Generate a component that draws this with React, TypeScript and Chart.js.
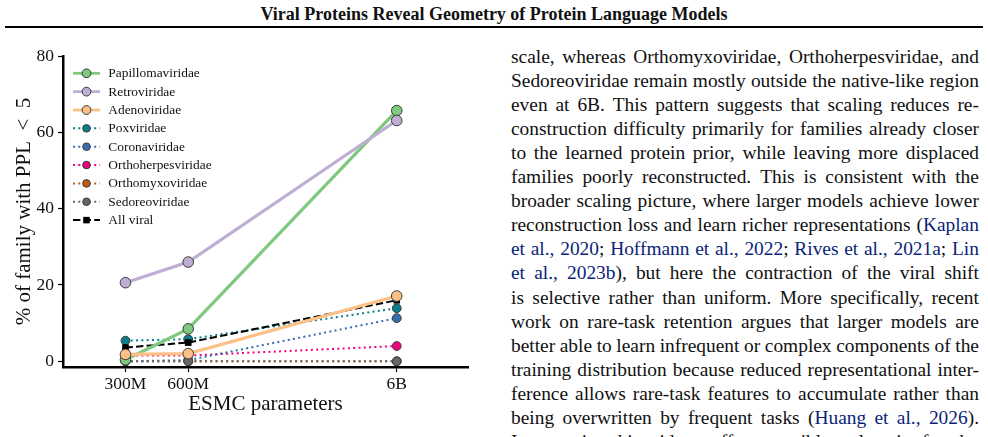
import React, { useEffect, useRef } from "react";
import { Chart, registerables } from "chart.js";

Chart.register(...registerables);

// ---------- data ----------
const modelSizes = [3e8, 6e8, 6e9];
const modelSizeLabels = ["300M", "600M", "6B"];
const yTickValues = [0, 20, 40, 60, 80];

const papillomaviridae = [0.4, 8.5, 65.7];
const retroviridae = [20.6, 26.0, 63.1];
const adenoviridae = [1.8, 2.0, 17.1];
const poxviridae = [5.4, 5.8, 13.9];
const coronaviridae = [0.0, 0.3, 11.3];
const orthoherpesviridae = [1.5, 1.5, 4.0];
const orthomyxoviridae = [0.0, 0.0, 0.0];
const sedoreoviridae = [0.0, 0.0, 0.0];
const allViral = [3.6, 4.9, 16.0];

const headerTitle = "Viral Proteins Reveal Geometry of Protein Language Models";
const xTitle = "ESMC parameters";
const yTitle = "% of family with PPL\u2002<\u20025";

// text column: {...} marks citation (blue) fragments
const paragraphLines = [
  "scale, whereas Orthomyxoviridae, Orthoherpesviridae, and",
  "Sedoreoviridae remain mostly outside the native-like region",
  "even at 6B. This pattern suggests that scaling reduces re-",
  "construction difficulty primarily for families already closer",
  "to the learned protein prior, while leaving more displaced",
  "families poorly reconstructed. This is consistent with the",
  "broader scaling picture, where larger models achieve lower",
  "reconstruction loss and learn richer representations ({Kaplan}",
  "{et} {al.,} {2020}; {Hoffmann} {et} {al.,} {2022}; {Rives} {et} {al.,} {2021a}; {Lin}",
  "{et} {al.,} {2023b}), but here the contraction of the viral shift",
  "is selective rather than uniform. More specifically, recent",
  "work on rare-task retention argues that larger models are",
  "better able to learn infrequent or complex components of the",
  "training distribution because reduced representational inter-",
  "ference allows rare-task features to accumulate rather than",
  "being overwritten by frequent tasks ({Huang} {et} {al.,} {2026}).",
  "In our setting, this evidence offers a possible explanation for why",
];

const SERIF = '"Liberation Serif", "Times New Roman", Times, serif';
const EDGE = "#3a3a3a";

type Series = {
  label: string;
  values: number[];
  color: string;
  kind: "solid" | "dotted" | "dashed";
  order: number;
};

const series: Series[] = [
  { label: "Papillomaviridae", values: papillomaviridae, color: "#7fc97f", kind: "solid", order: 3 },
  { label: "Retroviridae", values: retroviridae, color: "#beaed4", kind: "solid", order: 2 },
  { label: "Adenoviridae", values: adenoviridae, color: "#fdc086", kind: "solid", order: 1 },
  { label: "Poxviridae", values: poxviridae, color: "#0a7e8a", kind: "dotted", order: 11 },
  { label: "Coronaviridae", values: coronaviridae, color: "#386cb0", kind: "dotted", order: 12 },
  { label: "Orthoherpesviridae", values: orthoherpesviridae, color: "#f0027f", kind: "dotted", order: 13 },
  { label: "Orthomyxoviridae", values: orthomyxoviridae, color: "#bf5b17", kind: "dotted", order: 14 },
  { label: "Sedoreoviridae", values: sedoreoviridae, color: "#666666", kind: "dotted", order: 10 },
  { label: "All viral", values: allViral, color: "#000000", kind: "dashed", order: 5 },
];

function buildDataset(s: Series) {
  const isSolid = s.kind === "solid";
  const isDashed = s.kind === "dashed";
  return {
    label: s.label,
    data: modelSizes.map((x, i) => ({ x, y: s.values[i] })),
    borderColor: s.color,
    backgroundColor: s.color,
    borderWidth: isSolid ? 3.2 : 2,
    borderDash: isSolid ? [] : isDashed ? [7.4, 3.2] : [2, 3.3],
    pointStyle: isDashed ? "rect" : "circle",
    pointRadius: isSolid ? 5.3 : isDashed ? 4.7 : 4.4,
    pointBackgroundColor: s.color,
    pointBorderColor: isDashed ? "#000000" : EDGE,
    pointBorderWidth: isDashed ? 0 : 1,
    tension: 0,
    order: s.order,
    clip: false,
    legendKind: s.kind,
  } as any;
}

const lineLegend = {
  id: "lineLegend",
  afterDraw(chart: any) {
    const { ctx, chartArea } = chart;
    const x0 = chartArea.left + 10;
    const x1 = chartArea.left + 37;
    const xm = (x0 + x1) / 2;
    chart.data.datasets.forEach((ds: any, i: number) => {
      const y = chartArea.top + 17.3 + i * 18.35;
      ctx.save();
      ctx.strokeStyle = ds.borderColor;
      ctx.lineWidth = ds.legendKind === "solid" ? 2.8 : 2;
      ctx.setLineDash(ds.borderDash || []);
      ctx.beginPath();
      ctx.moveTo(x0, y);
      ctx.lineTo(x1, y);
      ctx.stroke();
      ctx.setLineDash([]);
      ctx.fillStyle = ds.pointBackgroundColor;
      if (ds.legendKind === "dashed") {
        const s = 6.5;
        ctx.fillRect(xm - s / 2, y - s / 2, s, s);
      } else {
        const r = ds.legendKind === "solid" ? 4.4 : 3.8;
        ctx.strokeStyle = EDGE;
        ctx.lineWidth = 1;
        ctx.beginPath();
        ctx.arc(xm, y, r, 0, Math.PI * 2);
        ctx.fill();
        ctx.stroke();
      }
      ctx.fillStyle = "#111111";
      ctx.font = `13.4px ${SERIF}`;
      ctx.textBaseline = "middle";
      ctx.textAlign = "left";
      ctx.fillText(ds.label, chartArea.left + 45.3, y + 0.5);
      ctx.restore();
    });
  },
};

function ViralChart() {
  const ref = useRef<HTMLCanvasElement | null>(null);
  useEffect(() => {
    if (!ref.current) return;
    const chart = new Chart(ref.current, {
      type: "line",
      data: { datasets: series.map(buildDataset) },
      plugins: [lineLegend],
      options: {
        responsive: false,
        animation: false,
        devicePixelRatio: 1,
        layout: { padding: { top: 16, right: 12, bottom: 0, left: 0 } },
        plugins: {
          legend: { display: false },
          tooltip: { enabled: false },
        },
        scales: {
          x: {
            type: "logarithmic",
            min: 1.505e8,
            max: 1.318e10,
            afterBuildTicks: (scale: any) => {
              scale.ticks = modelSizes.map((v) => ({ value: v }));
            },
            afterFit: (scale: any) => {
              scale.height = 70;
            },
            ticks: {
              autoSkip: false,
              maxRotation: 0,
              padding: 1.5,
              color: "#111111",
              font: { family: SERIF, size: 17.5 },
              callback: (value: any) => {
                const idx = modelSizes.indexOf(Number(value));
                return idx >= 0 ? modelSizeLabels[idx] : "";
              },
            },
            grid: {
              display: true,
              drawOnChartArea: false,
              drawTicks: true,
              tickLength: 5,
              tickColor: "#000000",
              tickWidth: 1.2,
            },
            border: { display: true, color: "#000000", width: 2.5 },
            title: {
              display: true,
              text: xTitle,
              color: "#111111",
              font: { family: SERIF, size: 21 },
              padding: { top: 0, bottom: 20 },
            },
          },
          y: {
            type: "linear",
            min: -1.5,
            max: 80,
            afterBuildTicks: (scale: any) => {
              scale.ticks = yTickValues.map((v) => ({ value: v }));
            },
            afterFit: (scale: any) => {
              scale.width = 63;
            },
            ticks: {
              padding: 4,
              color: "#111111",
              font: { family: SERIF, size: 17.5 },
            },
            grid: {
              display: true,
              drawOnChartArea: false,
              drawTicks: true,
              tickLength: 5,
              tickColor: "#000000",
              tickWidth: 1.2,
            },
            border: { display: true, color: "#000000", width: 2.5 },
            title: {
              display: true,
              text: yTitle,
              color: "#111111",
              font: { family: SERIF, size: 21 },
              padding: { top: 12, bottom: 0 },
            },
          },
        },
      } as any,
    });
    return () => chart.destroy();
  }, []);
  return <canvas ref={ref} width={480} height={397} style={{ display: "block", width: 480, height: 397 }} />;
}

function renderWord(word: string, key: number) {
  const parts = word.split(/(\{[^}]*\})/).filter((p) => p.length > 0);
  return (
    <span key={key} style={{ whiteSpace: "nowrap" }}>
      {parts.map((p, j) =>
        p.startsWith("{") ? (
          <span key={j} style={{ color: "#0a1f7a" }}>
            {p.slice(1, -1)}
          </span>
        ) : (
          <span key={j}>{p}</span>
        )
      )}
    </span>
  );
}

export default function App() {
  return (
    <div
      style={{
        position: "fixed",
        left: 0,
        top: 0,
        width: 988,
        height: 437,
        overflow: "hidden",
        background: "#ffffff",
        fontFamily: SERIF,
        color: "#111111",
      }}
    >
      <div
        style={{
          position: "absolute",
          left: 0,
          top: 5,
          width: 988,
          textAlign: "center",
          fontWeight: "bold",
          fontSize: 18,
          lineHeight: "18px",
        }}
      >
        {headerTitle}
      </div>
      <div style={{ position: "absolute", left: 5, top: 26, width: 978, height: 2, background: "#000" }} />
      <div style={{ position: "absolute", left: 0, top: 40, width: 480, height: 397 }}>
        <ViralChart />
      </div>
      <div style={{ position: "absolute", left: 511, top: 44.6, width: 468 }}>
        {paragraphLines.map((line, i) => (
          <div
            key={i}
            style={{
              display: "flex",
              justifyContent: "space-between",
              height: 24.1,
              lineHeight: "24.1px",
              fontSize: 19.4,
              whiteSpace: "nowrap",
            }}
          >
            {line.split(" ").map((w, k) => renderWord(w, k))}
          </div>
        ))}
      </div>
    </div>
  );
}
